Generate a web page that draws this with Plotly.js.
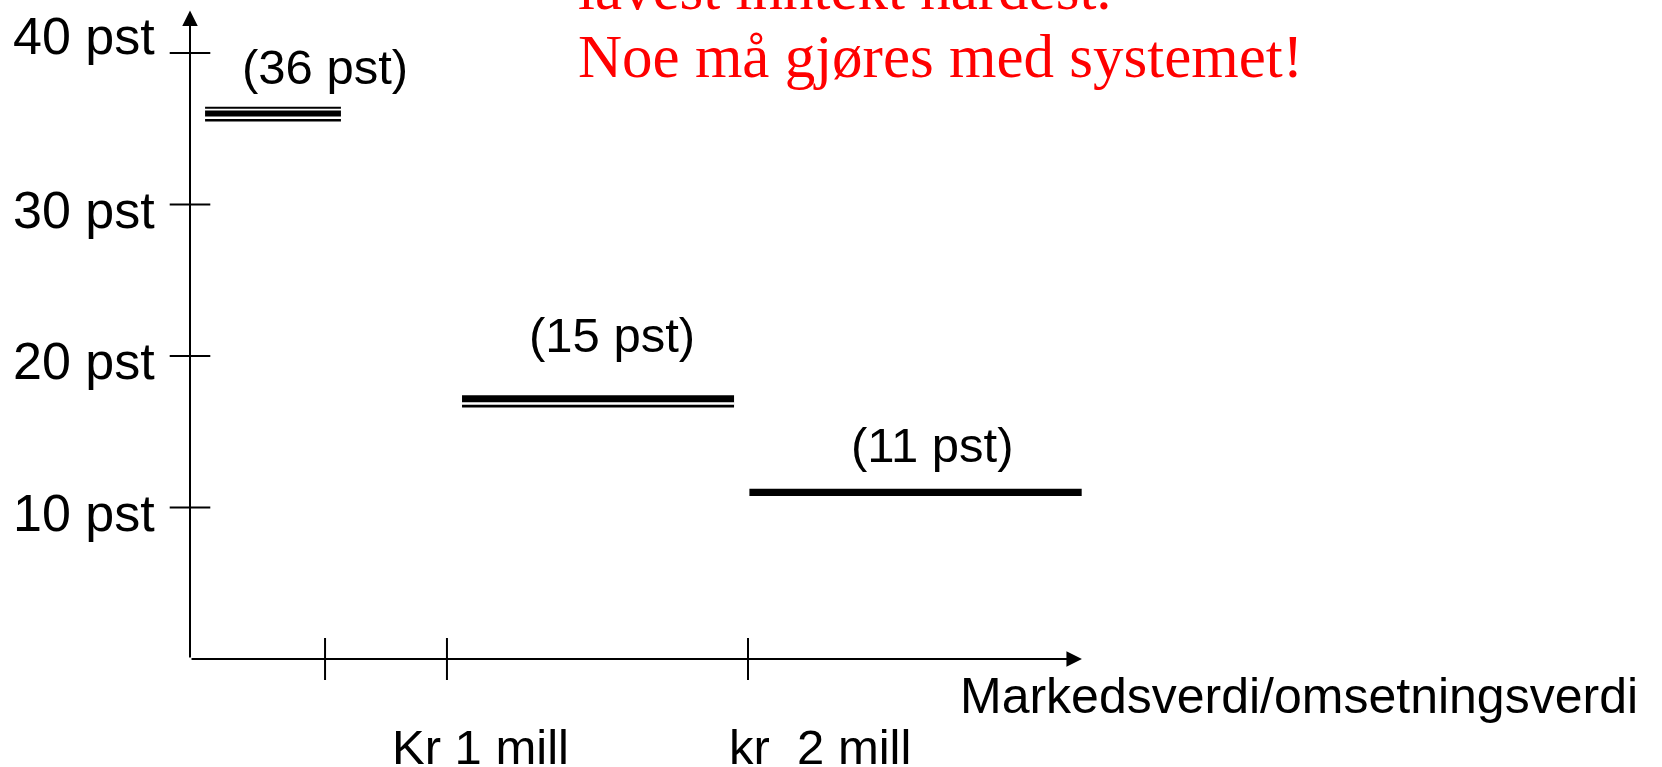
<!DOCTYPE html>
<html>
<head>
<meta charset="utf-8">
<script src="https://cdn.plot.ly/plotly-3.0.1.min.js"></script>
<style>html,body{margin:0;padding:0;background:#fff;}#chart{width:1662px;height:767px;}</style>
</head>
<body>
<div id="chart"></div>
<script>
// ---- data ----
const yTickVals = [10, 20, 30, 40];
const yTickLabels = ['10 pst', '20 pst', '30 pst', '40 pst'];
const xTickVals = [0.484, 0.921, 2.0];
const xTickLabels = ['', 'Kr 1 mill', 'kr\u00a0 2 mill'];
const segLevels = [36, 17, 11];
const segStart = [0.054, 0.975, 2.005];
const segEnd = [0.541, 1.950, 3.196];
const segLabels = ['(36 pst)', '(15 pst)', '(11 pst)'];
const xAxisEnd = 3.197;
const yAxisEnd = 42.8;
const xTitle = 'Markedsverdi/omsetningsverdi';
const redLines = ['lavest inntekt hardest.', 'Noe må gjøres med systemet!'];

// ---- styling ----
const SANS = 'Liberation Sans, Arial, sans-serif';
const SERIF = 'Liberation Serif, Times New Roman, serif';
const segWidths = [6, 12.3, 7.4];
const segLabelShift = [[52, 46.5], [14, 66.5], [16.5, 47]];

const traces = [];
segLevels.forEach((v, i) => {
  traces.push({
    type: 'scatter', mode: 'lines',
    x: [segStart[i], segEnd[i]], y: [v, v],
    line: {color: '#000', width: segWidths[i]},
    hoverinfo: 'skip', showlegend: false, cliponaxis: false
  });
});
traces.push({
  type: 'scatter', mode: 'markers',
  x: yTickVals.map(() => 0), y: yTickVals,
  marker: {symbol: 'line-ew', size: 29, color: '#000', line: {color: '#000', width: 2}},
  hoverinfo: 'skip', showlegend: false, cliponaxis: false
});
traces.push({
  type: 'scatter', mode: 'markers',
  x: xTickVals, y: xTickVals.map(() => 0),
  marker: {symbol: 'line-ns', size: 30, color: '#000', line: {color: '#000', width: 2}},
  hoverinfo: 'skip', showlegend: false, cliponaxis: false
});

// extra strokes of the compound lines (pixel offsets around the level)
const shapes = [
  {type: 'line', xref: 'x', yref: 'y', ysizemode: 'pixel', yanchor: segLevels[0],
   x0: segStart[0], x1: segEnd[0], y0: 5.9, y1: 5.9, line: {color: '#000', width: 2}},
  {type: 'line', xref: 'x', yref: 'y', ysizemode: 'pixel', yanchor: segLevels[0],
   x0: segStart[0], x1: segEnd[0], y0: -6.7, y1: -6.7, line: {color: '#000', width: 2.6}},
  {type: 'line', xref: 'x', yref: 'y', ysizemode: 'pixel', yanchor: segLevels[1],
   x0: segStart[1], x1: segEnd[1], y0: -2.0, y1: -2.0, line: {color: '#fff', width: 2.4}}
];

const annotations = [];
// axis arrows
annotations.push({x: xAxisEnd, y: 0, ax: 0, ay: 0, axref: 'x', ayref: 'y', xref: 'x', yref: 'y',
  text: '', showarrow: true, arrowhead: 2, arrowsize: 1.55, arrowwidth: 2, arrowcolor: '#000', standoff: 0});
annotations.push({x: 0, y: yAxisEnd, ax: 0, ay: 0, axref: 'x', ayref: 'y', xref: 'x', yref: 'y',
  text: '', showarrow: true, arrowhead: 2, arrowsize: 1.55, arrowwidth: 2, arrowcolor: '#000', standoff: 0});
// y tick labels
yTickVals.forEach((v, i) => {
  annotations.push({x: 0, y: v, xref: 'x', yref: 'y', text: yTickLabels[i], showarrow: false,
    xanchor: 'right', yanchor: 'middle', xshift: -33, yshift: v === 40 ? 17 : -5,
    font: {family: SANS, size: 52, color: '#000'}});
});
// x tick labels
const xLabelShift = [0, -57, -21];
xTickVals.forEach((v, i) => {
  if (!xTickLabels[i]) return;
  annotations.push({x: v, y: 0, xref: 'x', yref: 'y', text: xTickLabels[i], showarrow: false,
    xanchor: 'left', yanchor: 'top', xshift: xLabelShift[i], yshift: -59,
    font: {family: SANS, size: 49, color: '#000'}});
});
// x axis title
annotations.push({x: 0.8258, y: 0, xref: 'paper', yref: 'paper', text: xTitle, showarrow: false,
  xanchor: 'left', yanchor: 'top', yshift: -6.5, font: {family: SANS, size: 50, color: '#000'}});
// segment labels
segLevels.forEach((v, i) => {
  annotations.push({x: (segStart[i] + segEnd[i]) / 2, y: v, xref: 'x', yref: 'y', text: segLabels[i],
    showarrow: false, xanchor: 'center', yanchor: 'middle',
    xshift: segLabelShift[i][0], yshift: segLabelShift[i][1],
    font: {family: SANS, size: 49, color: '#000'}});
});
// red text
const redShift = [47.5, -20.5];
redLines.forEach((t, i) => {
  annotations.push({x: 0.4151, y: 1, xref: 'paper', yref: 'paper', text: t, showarrow: false,
    xanchor: 'left', yanchor: 'top', yshift: redShift[i],
    font: {family: SERIF, size: 61, color: '#ff0000'}});
});

const hidden = {showgrid: false, zeroline: false, showline: false, showticklabels: false, ticks: '', fixedrange: true};
const layout = {
  width: 1662, height: 767,
  margin: {l: 190, r: 542, t: 0, b: 108, pad: 0},
  paper_bgcolor: '#fff', plot_bgcolor: '#fff',
  showlegend: false,
  xaxis: Object.assign({range: [0, 930 / 279]}, hidden),
  yaxis: Object.assign({range: [0, 43.5]}, hidden),
  shapes: shapes,
  annotations: annotations
};
Plotly.newPlot('chart', traces, layout, {displayModeBar: false, staticPlot: true});
</script>
</body>
</html>
